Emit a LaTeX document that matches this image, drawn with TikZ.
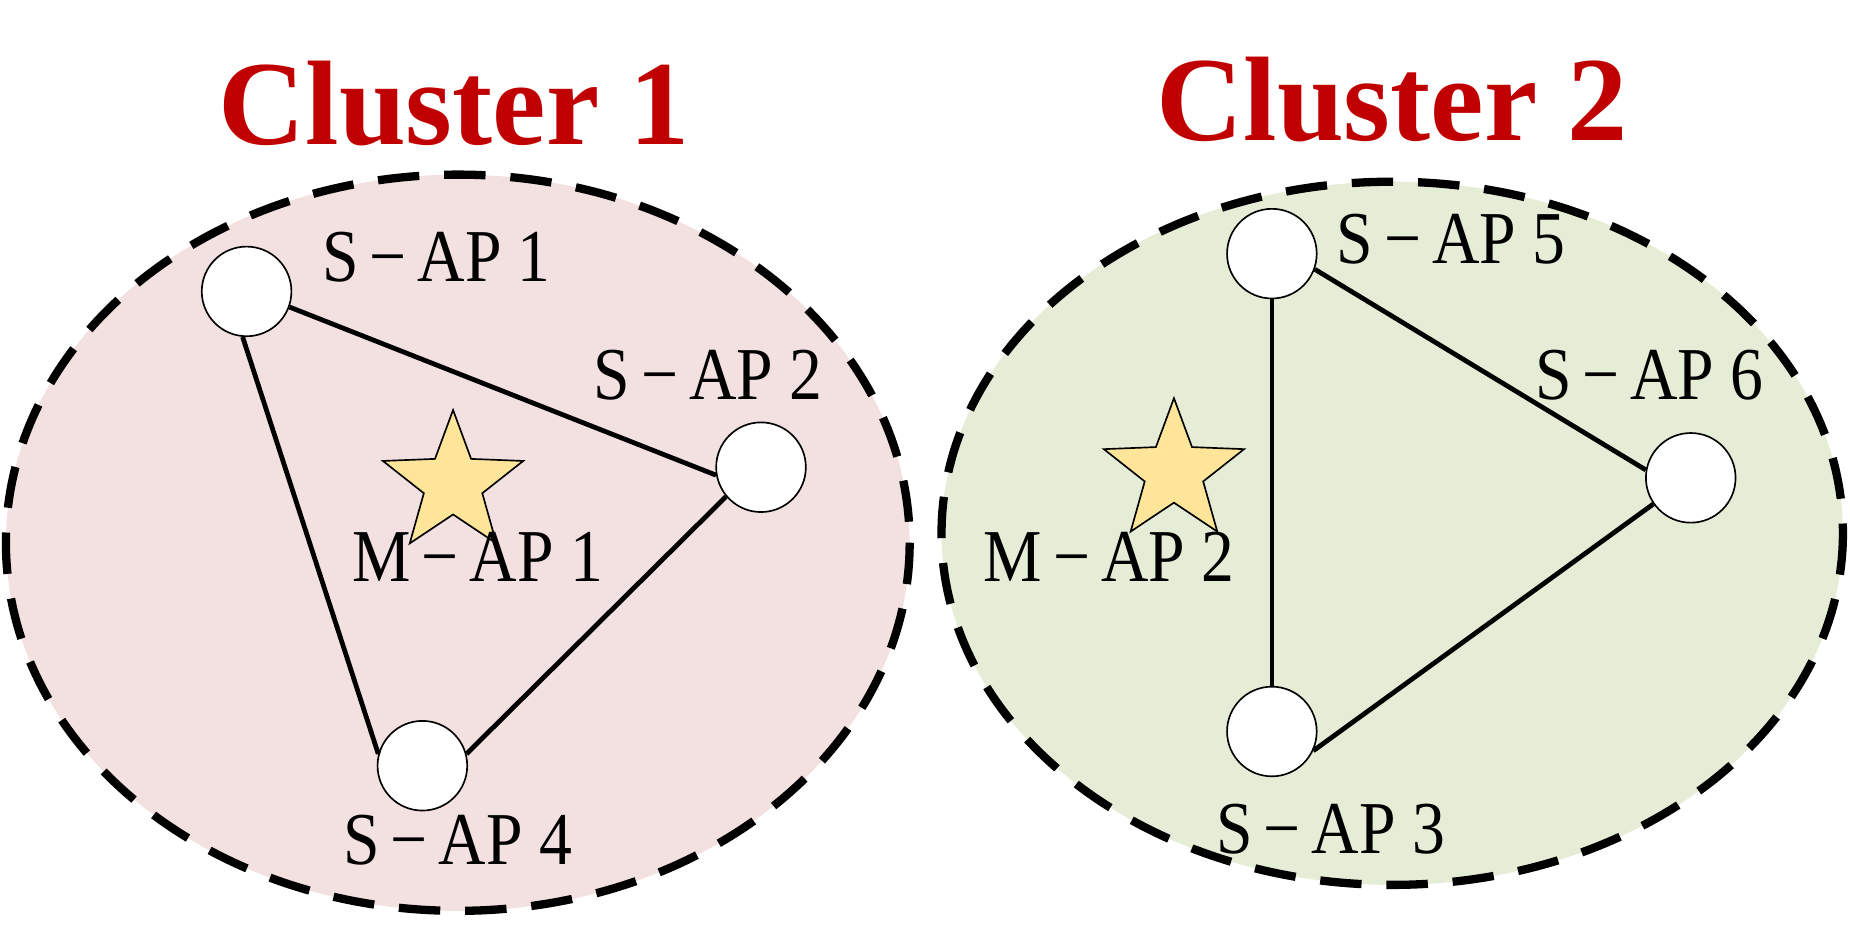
\documentclass[tikz,border=0pt]{standalone}
\usepackage{fontspec}
\setmainfont{Liberation Serif}
\usetikzlibrary{shapes.geometric}
\definecolor{pinkf}{RGB}{243,224,224}
\definecolor{greenf}{RGB}{230,237,215}
\definecolor{starf}{RGB}{255,229,153}
\definecolor{titred}{RGB}{192,0,0}
\begin{document}
\begin{tikzpicture}[x=0.02cm,y=-0.02cm,
  zone/.style={line width=4pt,dash pattern=on 20pt off 12pt},
  ap/.style={circle,draw,fill=white,minimum size=1.52cm,inner sep=0pt,line width=0.8pt},
  mstar/.style={star,star points=5,star point ratio=2.4,draw,fill=starf,minimum size=2.5cm,inner sep=0pt,line width=0.8pt},
  lbl/.style={font=\fontsize{36}{38}\selectfont,xscale=0.88},
  tit/.style={font=\fontsize{58}{60}\selectfont\bfseries,text=titred},
  link/.style={line width=2.3pt}]
\useasboundingbox (0,0) rectangle (1568,787);
\draw[zone,fill=pinkf] (388,460) ellipse [x radius=383, y radius=312];
\draw[zone,fill=greenf] (1180,452) ellipse [x radius=382, y radius=298];
\node[tit] (t1) at (385,88) {Cluster 1};
\node[tit] (t2) at (1180,84) {Cluster 2};
\node[mstar] (m1) at (384,410) {};
\node[mstar] (m2) at (995,400) {};
\node[ap] (a1) at (209,247) {};
\node[ap] (a2) at (645,396) {};
\node[ap] (a4) at (358,649) {};
\node[ap] (a5) at (1078,215) {};
\node[ap] (a6) at (1433,405) {};
\node[ap] (a3) at (1078,620) {};
\draw[link] (a1.-20) -- (a2.190); \draw[link] (a1.-95) -- (a4.165); \draw[link] (a2.220) -- (a4.15);
\draw[link] (a5.-20) -- (a6.170); \draw[link] (a5.-90) -- (a3.90); \draw[link] (a6.215) -- (a3.-25);
\node[lbl] (l1) at (370,218) {S\,−\,AP 1};
\node[lbl] (l2) at (600,318) {S\,−\,AP 2};
\node[lbl] (lm1) at (405,472) {M\,−\,AP 1};
\node[lbl] (l4) at (388,712) {S\,−\,AP 4};
\node[lbl] (l5) at (1230,203) {S\,−\,AP 5};
\node[lbl] (l6) at (1398,318) {S\,−\,AP 6};
\node[lbl] (lm2) at (940,472) {M\,−\,AP 2};
\node[lbl] (l3) at (1128,703) {S\,−\,AP 3};
\end{tikzpicture}
\end{document}
